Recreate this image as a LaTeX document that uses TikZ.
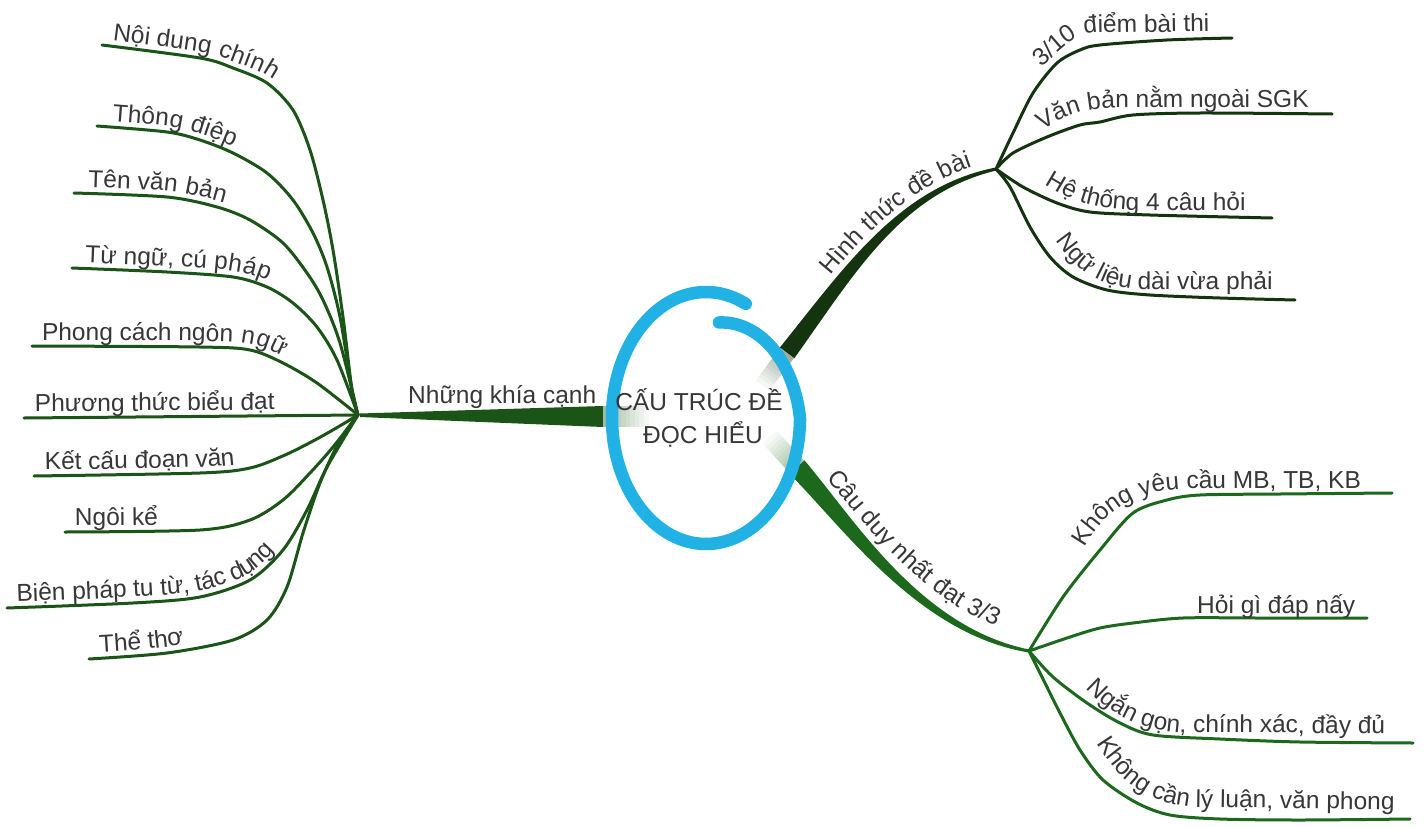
\documentclass[tikz,border=0pt]{standalone}
\usepackage{fontspec}
\setmainfont{Liberation Sans}
\usetikzlibrary{decorations.text,calc}
\definecolor{txt}{RGB}{55,55,55}
\definecolor{leftg}{RGB}{26,84,22}
\definecolor{topg}{RGB}{20,52,16}
\definecolor{botg}{RGB}{28,104,28}
\definecolor{ringblue}{RGB}{33,177,229}
\newcommand\lf{\fontsize{24.5}{29}\selectfont}
\tikzset{
  leafL/.style={draw=leftg, line width=3pt, line cap=round},
  leafT/.style={draw=topg, line width=3pt, line cap=round},
  leafB/.style={draw=botg, line width=3pt, line cap=round},
  lab/.style n args={3}{decorate, decoration={text along path, text={|\lf|#1},
      text align={left indent=#2}, raise=#3, text color=txt}},
  plain/.style={font=\lf, text=txt, inner sep=0pt},
}
\begin{document}
\begin{tikzpicture}[x=1pt,y=-1pt]
\useasboundingbox (0,0) rectangle (1424,827);
\fill[white] (0,0) rectangle (1424,827);

% hubs and ends
\coordinate (hubL) at (358,415);
\coordinate (hubT) at (996,169);
\coordinate (hubB) at (1029,651);
\coordinate (rL) at (603,416);
\coordinate (rT) at (787,353);
\coordinate (rB) at (797,467);
\coordinate (n1) at (102,45);
\coordinate (n2) at (97,126);
\coordinate (n3) at (74,193);
\coordinate (n4) at (72,268);
\coordinate (n5) at (32,346);
\coordinate (n6) at (24,418);
\coordinate (n7) at (34,476);
\coordinate (n8) at (65,532);
\coordinate (n9) at (7,608);
\coordinate (n10) at (89,659);
\coordinate (r1) at (1232,38);
\coordinate (r2) at (1332,114);
\coordinate (r3) at (1272,218);
\coordinate (r4) at (1295,300);
\coordinate (b1) at (1392,493);
\coordinate (b2) at (1367,618);
\coordinate (b3) at (1413,743);
\coordinate (b4) at (1410,819);

% ---- left leaves
\def\pA{(n1) (200,58) (233,68) (267,83) (293,110) (310,150) (323,200) (333,250) (343,317) (352,390) (hubL)}
\def\pB{(n2) (167,132) (200,140) (233,153) (267,173) (293,200) (313,233) (327,267) (340,317) (352,390) (hubL)}
\def\pC{(n3) (167,197) (217,207) (250,220) (283,243) (307,273) (323,300) (340,343) (hubL)}
\def\pD{(n4) (167,272) (233,277) (267,287) (293,303) (317,327) (337,360) (hubL)}
\def\pE{(n5) (200,347) (250,350) (283,363) (317,383) (hubL)}
\def\pF{(n6) (hubL)}
\def\pG{(n7) (200,473) (250,468) (285,455) (315,440) (338,427) (hubL)}
\def\pH{(n8) (200,530) (250,520) (283,500) (310,473) (333,447) (hubL)}
\def\pI{(n9) (133,603) (200,597) (250,580) (283,550) (307,510) (327,467) (hubL)}
\def\pJ{(n10) (167,653) (233,640) (267,620) (287,587) (303,533) (320,483) (340,440) (hubL)}
\foreach \p in {\pA,\pB,\pC,\pD,\pE,\pF,\pG,\pH,\pI,\pJ}{
  \draw[leafL] plot[smooth] coordinates {\p};
}
\path[lab={Nội dung chính}{10pt}{6pt}] plot[smooth] coordinates {\pA};
\path[lab={Thông điệp}{15pt}{6pt}] plot[smooth] coordinates {\pB};
\path[lab={Tên văn bản}{14pt}{6pt}] plot[smooth] coordinates {\pC};
\path[lab={Từ ngữ, cú pháp}{13pt}{6pt}] plot[smooth] coordinates {\pD};
\path[lab={Phong cách ngôn ngữ}{10pt}{6pt}] plot[smooth] coordinates {\pE};
\path[lab={Phương thức biểu đạt}{11pt}{6pt}] plot[smooth] coordinates {\pF};
\path[lab={Kết cấu đoạn văn}{11pt}{6pt}] plot[smooth] coordinates {\pG};
\path[lab={Ngôi kể}{10pt}{6pt}] plot[smooth] coordinates {\pH};
\path[lab={Biện pháp tu từ, tác dụng}{10pt}{6pt}] plot[smooth] coordinates {\pI};
\path[lab={Thể thơ}{11pt}{6pt}] plot[smooth] coordinates {\pJ};

% ---- top-right leaves
\def\qA{(hubT) (1013,133) (1033,93) (1057,63) (1080,50) (1100,45) (1167,40) (r1)}
\def\qB{(hubT) (1013,153) (1047,137) (1080,125) (1100,122) (1133,115) (1200,113) (r2)}
\def\qC{(hubT) (1023,187) (1057,203) (1090,212) (1150,215) (r3)}
\def\qD{(hubT) (1010,187) (1030,227) (1050,257) (1073,277) (1107,290) (1150,295) (1220,298) (r4)}
\foreach \p in {\qA,\qB,\qC,\qD}{
  \draw[leafT] plot[smooth] coordinates {\p};
}
\path[lab={3/10 điểm bài thi}{0pt}{0pt}] (1041,67) -- (1070,42) .. controls (1078,36) and (1085,33) .. (1096,33) -- (1240,31);
\path[lab={Văn bản nằm ngoài SGK}{5pt}{0pt}] (1038,133) .. controls (1060,118) and (1080,109) .. (1110,108) -- (1325,107);
\path[lab={Hệ thống 4 câu hỏi}{0pt}{0pt}] (1045,184) .. controls (1070,200) and (1090,208) .. (1130,210) -- (1260,210);
\path[lab={Ngữ liệu dài vừa phải}{5pt}{0pt}] (1053,236) .. controls (1072,264) and (1092,286) .. (1135,289) -- (1295,290);

% ---- bottom-right leaves
\def\sA{(hubB) (1063,597) (1100,550) (1133,513) (1167,500) (1200,495) (1280,494) (b1)}
\def\sB{(hubB) (1070,637) (1100,628) (1133,623) (1183,618) (1260,618) (b2)}
\def\sC{(hubB) (1053,677) (1087,703) (1120,723) (1153,735) (1220,739) (1300,742) (b3)}
\def\sD{(hubB) (1040,673) (1060,713) (1080,750) (1103,780) (1137,803) (1170,815) (1220,819) (1300,820) (b4)}
\foreach \p in {\sA,\sB,\sC,\sD}{
  \draw[leafB] plot[smooth] coordinates {\p};
}
\path[lab={Không yêu cầu MB, TB, KB}{10pt}{0pt}] (1080,556) .. controls (1100,515) and (1130,490) .. (1185,489) -- (1390,488);
\node[plain, anchor=base west] (lb2) at (1197,613) {Hỏi gì đáp nấy};
\path[lab={Ngắn gọn, chính xác, đầy đủ}{0pt}{0pt}] (1086,688) .. controls (1105,708) and (1130,728) .. (1175,732) -- (1405,734);
\path[lab={Không cần lý luận, văn phong}{6pt}{0pt}] (1093,738) .. controls (1115,775) and (1140,802) .. (1190,807) -- (1412,810);

% ---- main branches (tapered)
\fill[leftg] ($(hubL)+(2,-1.5)$) -- ($(rL)+(0,-10)$) -- ($(rL)+(0,11)$) -- ($(hubL)+(2,2)$) -- cycle;
\fill[topg] (794.2,358.4) .. controls (854.8,273.6) and (900.8,193.4) .. (996.3,170.5)
   -- (995.7,167.5) .. controls (899.2,186.6) and (845.2,266.4) .. (779.8,347.6) -- cycle;
\fill[botg] (804.4,460.25) .. controls (855.2,520.3) and (920.64,627.56) .. (1029.27,649.53)
   -- (1028.73,652.47) .. controls (919.36,634.44) and (844.8,529.7) .. (789.6,473.75) -- cycle;

\node[plain, anchor=base west] (lblL) at (408,403) {Những khía cạnh};
\path[lab={Hình thức đề bài}{88pt}{0pt}] (776.6,345.1) .. controls (840,262) and (898,182) .. (995,160);
\path[lab={Câu duy nhất đạt 3/3}{28pt}{0pt}] (808,457) .. controls (865,520) and (925,617) .. (1045,641);

% ---- fades inside the ring
\foreach \k in {0,...,9}{
  \pgfmathsetmacro\c{40-4*\k}
  \fill[leftg!\c!white] (603+4.5*\k,406) rectangle (608+4.5*\k,427);
  \draw[line width=17pt, topg!\c!white] ($(rT)+(-2.4*\k,3.2*\k)$) -- ($(rT)+(-2.4*\k-2.7,3.2*\k+3.6)$);
  \draw[line width=19pt, botg!\c!white] ($(rB)+(-2.7*\k,-2.95*\k)$) -- ($(rB)+(-2.7*\k-3,-2.95*\k-3.3)$);
}

% ---- central ring
\draw[ringblue, line width=12.5pt, line cap=round]
  plot[domain=65:440, samples=160, smooth]
  ({706+(94-19*max(0,(\x-360)/80))*cos(\x)}, {418-(126-29*max(0,(\x-360)/80))*sin(\x)});
\node[plain, anchor=base] (c1) at (699,410) {CẤU TRÚC ĐỀ};
\node[plain, anchor=base] (c2) at (703,443) {ĐỌC HIỂU};
\end{tikzpicture}
\end{document}
